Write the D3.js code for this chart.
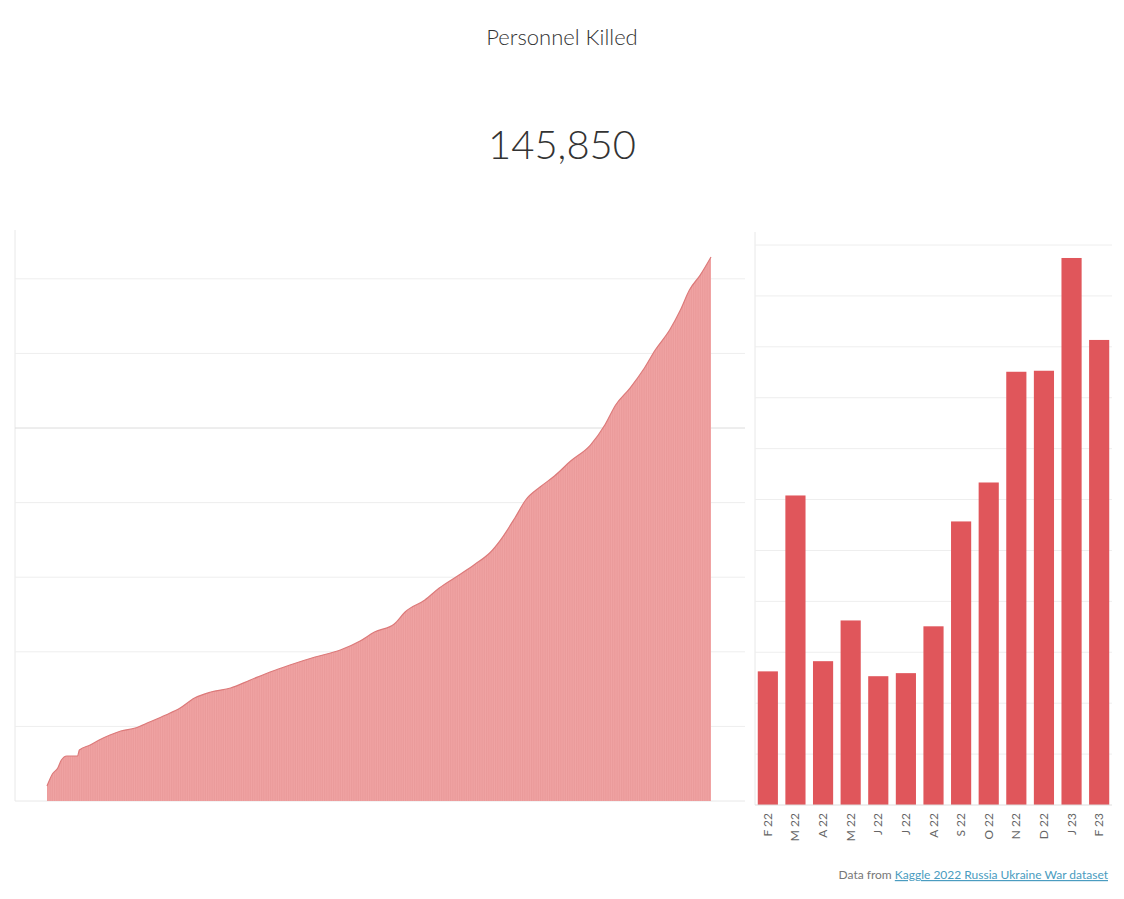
<!DOCTYPE html>
<html><head><meta charset="utf-8">
<script src="https://cdn.jsdelivr.net/npm/d3@7/dist/d3.min.js"></script>
<style>body{margin:0;background:#fff;font-family:Lato,"Open Sans",sans-serif}</style>
</head><body><svg id="c" width="1124" height="899"></svg>
<script>
const total = "145,850";
const days = [0,3,6,8,11,17,18,24,29,35,41,49,57,66,74,82,91,102,113,124,135,149,163,174,182,193,199,210,218,229,238,246,252,260,266,274,282,291,302,310,316,324,332,338,346,352,357,363,369];
const cumulative = [4000,7240,8850,10990,12060,12060,13670,15010,16350,17690,18770,19570,21180,23060,24930,27610,29220,30290,32440,34580,36460,38600,40480,42900,45310,47450,50670,53890,57110,60590,63540,66490,69970,75870,80700,84180,87130,91150,95440,100800,106170,110720,116090,120910,126270,131640,137000,141000,145850];
const months = ["F 22","M 22","A 22","M 22","J 22","J 22","A 22","S 22","O 22","N 22","D 22","J 23","F 23"];
const monthly = [5250,12160,5650,7250,5060,5180,7020,11140,12670,17020,17060,21490,18270];
const leftTicks = [20000,40000,60000,80000,100000,120000,140000];
const rightTicks = [2000,4000,6000,8000,10000,12000,14000,16000,18000,20000,22000];

const svg = d3.select("#c");
svg.append("text").attr("x",562).attr("y",45).attr("text-anchor","middle").attr("font-size",22).attr("font-weight",300).attr("fill","#333").text("Personnel Killed");
svg.append("text").attr("x",562).attr("y",159).attr("text-anchor","middle").attr("font-size",40).attr("font-weight",300).attr("fill","#333").text(total);

// left
const x = d3.scaleLinear().domain([0,369]).range([47,711]);
const y = d3.scaleLinear().domain([0,145850]).range([801,257]);
svg.append("line").attr("x1",15).attr("x2",15).attr("y1",230).attr("y2",801).attr("stroke","#e8e8e8");
leftTicks.forEach(t=>svg.append("line").attr("x1",15).attr("x2",745).attr("y1",y(t)).attr("y2",y(t)).attr("stroke",t===100000?"#dcdcdc":"#eeeeee"));
svg.append("line").attr("x1",15).attr("x2",745).attr("y1",801).attr("y2",801).attr("stroke","#e8e8e8");
const defs = svg.append("defs");
const pat = defs.append("pattern").attr("id","stripe").attr("width",1.8).attr("height",10).attr("patternUnits","userSpaceOnUse");
pat.append("rect").attr("width",1.8).attr("height",10).attr("fill","#f0a3a3");
pat.append("rect").attr("width",0.4).attr("height",10).attr("fill","#e48f8f");
const area = d3.area().x((d,i)=>x(days[i])).y0(y(0)).y1(d=>y(d)).curve(d3.curveMonotoneX);
svg.append("path").datum(cumulative).attr("d",area).attr("fill","url(#stripe)");
svg.append("path").datum(cumulative).attr("d",d3.line().x((d,i)=>x(days[i])).y(d=>y(d)).curve(d3.curveMonotoneX)).attr("fill","none").attr("stroke","#dc7a7a").attr("stroke-width",1.2);

// right
const xb = d3.scaleBand().domain(d3.range(months.length)).range([755,1112]).paddingInner(0.27).paddingOuter(0.1);
const yb = d3.scaleLinear().domain([0,22000]).range([805,245]);
svg.append("line").attr("x1",755).attr("x2",755).attr("y1",232).attr("y2",805).attr("stroke","#e8e8e8");
rightTicks.forEach(t=>svg.append("line").attr("x1",755).attr("x2",1112).attr("y1",yb(t)).attr("y2",yb(t)).attr("stroke","#eeeeee"));
svg.selectAll(".b").data(monthly).enter().append("rect").attr("x",(d,i)=>xb(i)).attr("width",xb.bandwidth()).attr("y",d=>yb(d)).attr("height",d=>805-yb(d)).attr("fill","#e0565b");
svg.append("line").attr("x1",755).attr("x2",1112).attr("y1",805).attr("y2",805).attr("stroke","#ddd");
months.forEach((m,i)=>svg.append("text").attr("transform",`translate(${xb(i)+xb.bandwidth()/2+4},813) rotate(-90)`).attr("text-anchor","end").attr("font-size",12).attr("fill","#666").text(m));

const f = svg.append("text").attr("x",1108).attr("y",879).attr("text-anchor","end").attr("font-size",12);
f.append("tspan").attr("fill","#777").text("Data from ");
f.append("tspan").attr("fill","#4a9cc0").attr("text-decoration","underline").text("Kaggle 2022 Russia Ukraine War dataset");
</script></body></html>
